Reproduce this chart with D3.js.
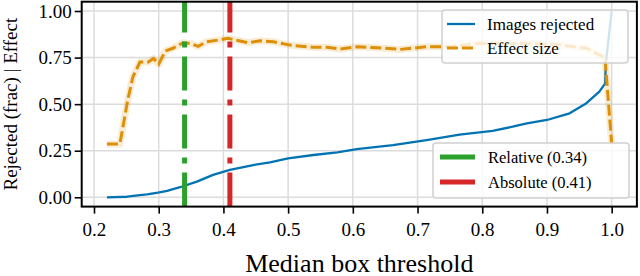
<!DOCTYPE html>
<html>
<head>
<meta charset="utf-8">
<script src="https://cdn.jsdelivr.net/npm/d3@7"></script>
<style>
    body { margin: 0; background: #fff; }
    text { font-family: "Liberation Serif", "Times New Roman", serif; fill: #000; }
</style>
</head>
<body>
<svg id="chart" width="640" height="276"></svg>
<script>
// values
const rejectedX = [0.22, 0.251, 0.271, 0.282, 0.299, 0.313, 0.333, 0.359, 0.384, 0.41, 0.446, 0.472, 0.5,
    0.539, 0.576, 0.606, 0.662, 0.714, 0.765, 0.816, 0.847, 0.869, 0.9, 0.935, 0.961, 0.981, 0.99, 0.991, 1.0];
const rejectedY = [0.0, 0.003, 0.012, 0.016, 0.025, 0.035, 0.054, 0.084, 0.12, 0.147, 0.173, 0.188, 0.209,
    0.227, 0.241, 0.258, 0.28, 0.307, 0.336, 0.357, 0.379, 0.397, 0.415, 0.451, 0.505, 0.567, 0.612, 0.72, 1.0];

const effectX = [0.22, 0.24, 0.252, 0.26, 0.271, 0.284, 0.292, 0.3, 0.31, 0.322, 0.338, 0.35, 0.361, 0.374,
    0.394, 0.407, 0.418, 0.438, 0.457, 0.477, 0.503, 0.539, 0.56, 0.58, 0.608, 0.637, 0.673, 0.714, 0.745,
    0.785, 0.796, 0.843, 0.878, 0.92, 0.961, 0.981, 0.99, 0.991, 1.0];
const effectY = [0.286, 0.286, 0.52, 0.645, 0.726, 0.726, 0.745, 0.715, 0.785, 0.8, 0.83, 0.825, 0.81, 0.835,
    0.845, 0.853, 0.845, 0.83, 0.84, 0.835, 0.817, 0.805, 0.805, 0.796, 0.808, 0.803, 0.794, 0.808, 0.808,
    0.821, 0.826, 0.826, 0.826, 0.817, 0.8, 0.764, 0.75, 0.69, 0.29];

const thresholds = [{name: 'Relative (0.34)', value: 0.34, color: '#2ca02c'},
    {name: 'Absolute (0.41)', value: 0.41, color: '#d62728'}];

const xTicks = [0.2, 0.3, 0.4, 0.5, 0.6, 0.7, 0.8, 0.9, 1.0];
const yTicks = [0, 0.25, 0.5, 0.75, 1.0];

const blue = '#0173b2';
const orange = '#de8f05';

const svg = d3.select('#chart');
const x = d3.scaleLinear().domain([0.181, 1.039]).range([81.7, 636.9]);
const y = d3.scaleLinear().domain([-0.05, 1.05]).range([206.6, 1.7]);
const [plotLeft, plotRight] = x.range();
const [plotBottom, plotTop] = y.range();

// grid
svg.append('g').selectAll('line').data(xTicks).join('line')
    .attr('x1', d => x(d)).attr('x2', d => x(d)).attr('y1', plotTop).attr('y2', plotBottom)
    .attr('stroke', '#dcdcdc').attr('stroke-width', 1.5);
svg.append('g').selectAll('line').data(yTicks).join('line')
    .attr('x1', plotLeft).attr('x2', plotRight).attr('y1', d => y(d)).attr('y2', d => y(d))
    .attr('stroke', '#dcdcdc').attr('stroke-width', 1.5);

const line = d3.line().x(d => x(d[0])).y(d => y(d[1]));
const rejected = rejectedX.map((v, i) => [v, rejectedY[i]]);
const effect = effectX.map((v, i) => [v, effectY[i]]);

svg.append('path').attr('d', line(rejected)).attr('fill', 'none')
    .attr('stroke', blue).attr('stroke-width', 2.3).attr('stroke-linejoin', 'round');
// halo behind the dashed effect line
svg.append('path').attr('d', line(effect)).attr('fill', 'none')
    .attr('stroke', orange).attr('stroke-opacity', 0.17).attr('stroke-width', 7)
    .attr('stroke-linejoin', 'round');
svg.append('path').attr('d', line(effect)).attr('fill', 'none')
    .attr('stroke', orange).attr('stroke-width', 3).attr('stroke-dasharray', '11,4');

// threshold lines, dash-dot, drawn from the bottom up
svg.append('g').selectAll('line').data(thresholds).join('line')
    .attr('x1', d => x(d.value)).attr('x2', d => x(d.value)).attr('y1', plotBottom).attr('y2', plotTop)
    .attr('stroke', d => d.color).attr('stroke-width', 5).attr('stroke-dasharray', '34,9,6,9');

// axes
const xAxis = svg.append('g').attr('transform', `translate(0,${plotBottom})`)
    .call(d3.axisBottom(x).tickValues(xTicks).tickFormat(d3.format('.1f')).tickSize(7).tickPadding(4));
const yAxis = svg.append('g').attr('transform', `translate(${plotLeft},0)`)
    .call(d3.axisLeft(y).tickValues(yTicks).tickFormat(d3.format('.2f')).tickSize(7).tickPadding(3));
[xAxis, yAxis].forEach(a => {
    a.select('.domain').remove();
    a.selectAll('line').attr('stroke', '#000').attr('stroke-width', 1.6);
    a.selectAll('text').style('font-family', '"Liberation Serif", serif').style('font-size', '19px');
});
xAxis.selectAll('text').attr('dy', '0.95em');

svg.append('rect').attr('x', plotLeft).attr('y', plotTop)
    .attr('width', plotRight - plotLeft).attr('height', plotBottom - plotTop)
    .attr('fill', 'none').attr('stroke', '#000').attr('stroke-width', 2);

svg.append('text').attr('x', (plotLeft + plotRight) / 2).attr('y', 271.5).attr('text-anchor', 'middle')
    .style('font-size', '26px').text('Median box threshold');
svg.append('text').attr('transform', `translate(17,${(plotTop + plotBottom) / 2}) rotate(-90)`)
    .attr('text-anchor', 'middle').style('font-size', '19px').text('Rejected (frac) | Effect');

// legends
function legend(box, items) {
    const g = svg.append('g');
    g.append('rect').attr('x', box.x).attr('y', box.y).attr('width', box.w).attr('height', box.h)
        .attr('rx', 3).attr('fill', '#fff').attr('fill-opacity', 0.8)
        .attr('stroke', '#d0d0d0').attr('stroke-width', 1.5);
    items.forEach((it, i) => {
        const cy = box.y + box.first + i * box.step;
        g.append('line').attr('x1', box.x + box.pad).attr('x2', box.x + box.pad + box.len)
            .attr('y1', cy).attr('y2', cy).attr('stroke', it.color).attr('stroke-width', it.width)
            .attr('stroke-dasharray', it.dash || null);
        g.append('text').attr('x', box.x + box.text).attr('y', cy + 6)
            .style('font-size', box.size).text(it.name);
    });
}

legend({x: 442, y: 10, w: 186, h: 53, first: 14, step: 24, pad: 5, len: 28, text: 45, size: '17px'}, [
    {name: 'Images rejected', color: blue, width: 2.3},
    {name: 'Effect size', color: orange, width: 3, dash: '11,4'}
]);
legend({x: 433, y: 143, w: 196, h: 55, first: 14, step: 25, pad: 7, len: 35, text: 55, size: '16.5px'},
    thresholds.map(d => ({name: d.name, color: d.color, width: 5})));
</script>
</body>
</html>
